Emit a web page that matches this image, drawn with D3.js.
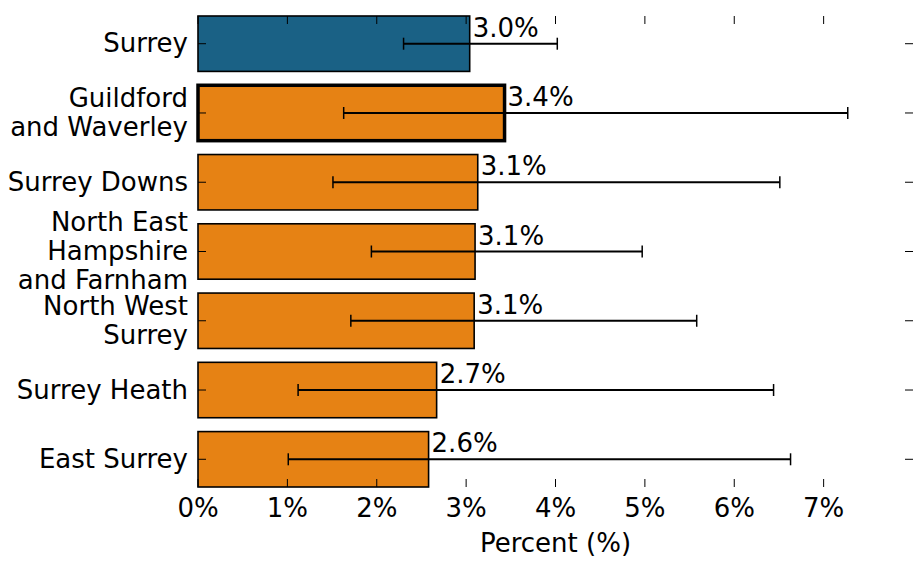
<!DOCTYPE html>
<html>
<head>
<meta charset="utf-8">
<script src="https://cdn.jsdelivr.net/npm/d3@7"></script>
<style>
  body { margin: 0; background: #fff; }
  svg { display: block; font-family: "DejaVu Sans", sans-serif; }
</style>
</head>
<body>
<svg id="chart" width="921" height="573"></svg>
<script>
// Data
const categories = [
  ["Surrey"],
  ["Guildford", "and Waverley"],
  ["Surrey Downs"],
  ["North East", "Hampshire", "and Farnham"],
  ["North West", "Surrey"],
  ["Surrey Heath"],
  ["East Surrey"]
];
const values = [3.04, 3.43, 3.13, 3.10, 3.09, 2.67, 2.58];
const lowerCI = [2.30, 1.63, 1.51, 1.94, 1.71, 1.12, 1.01];
const upperCI = [4.02, 7.27, 6.51, 4.97, 5.58, 6.44, 6.63];
const valueLabels = ["3.0%", "3.4%", "3.1%", "3.1%", "3.1%", "2.7%", "2.6%"];
const xTicks = [0, 1, 2, 3, 4, 5, 6, 7];
const highlight = [false, true, false, false, false, false, false];
const isRegion = [true, false, false, false, false, false, false];

const svg = d3.select("#chart");
const mLeft = 198, mRight = 913, mTop = 16, mBottom = 487;

const x = d3.scaleLinear().domain([0, 8]).range([mLeft, mRight]);
const idx = d3.range(categories.length);
const y = d3.scaleBand().domain(idx).range([mTop, mBottom]).paddingInner(0.2).paddingOuter(0);

const fontSize = 26;

// bars
const g = svg.append("g");
g.selectAll("rect.bar").data(idx).enter().append("rect")
  .attr("x", x(0))
  .attr("y", i => y(i))
  .attr("width", i => x(values[i]) - x(0))
  .attr("height", y.bandwidth())
  .attr("fill", i => isRegion[i] ? "#1a6185" : "#e68214")
  .attr("stroke", "#000")
  .attr("stroke-width", i => highlight[i] ? 3.5 : 1.6);

// ticks (inward, all four sides)
const tickLen = 8;
const tg = svg.append("g").attr("stroke", "#000").attr("stroke-width", 1);
xTicks.forEach(t => {
  tg.append("line").attr("x1", x(t)).attr("x2", x(t)).attr("y1", mBottom).attr("y2", mBottom - tickLen);
  tg.append("line").attr("x1", x(t)).attr("x2", x(t)).attr("y1", mTop).attr("y2", mTop + tickLen);
});
idx.forEach(i => {
  const cy = y(i) + y.bandwidth() / 2;
  tg.append("line").attr("x1", mLeft).attr("x2", mLeft + tickLen).attr("y1", cy).attr("y2", cy);
  tg.append("line").attr("x1", mRight).attr("x2", mRight - tickLen).attr("y1", cy).attr("y2", cy);
});

// error bars
const eg = svg.append("g").attr("stroke", "#000");
idx.forEach(i => {
  const cy = y(i) + y.bandwidth() / 2;
  eg.append("line").attr("x1", x(lowerCI[i])).attr("x2", x(upperCI[i]))
    .attr("y1", cy).attr("y2", cy).attr("stroke-width", 2);
  [lowerCI[i], upperCI[i]].forEach(v => {
    eg.append("line").attr("x1", x(v)).attr("x2", x(v))
      .attr("y1", cy - 6).attr("y2", cy + 6).attr("stroke-width", 1.5);
  });
});

// value labels
svg.append("g").selectAll("text").data(idx).enter().append("text")
  .attr("x", i => x(values[i]) + 3)
  .attr("y", i => y(i) + y.bandwidth() / 2 - 7)
  .attr("font-size", fontSize)
  .attr("fill", "#000")
  .text(i => valueLabels[i]);

// y category labels
const lineH = 29;
idx.forEach(i => {
  const cy = y(i) + y.bandwidth() / 2;
  const lines = categories[i];
  const t = svg.append("text")
    .attr("text-anchor", "end")
    .attr("font-size", fontSize)
    .attr("fill", "#000");
  lines.forEach((ln, k) => {
    t.append("tspan")
      .attr("x", mLeft - 10)
      .attr("y", cy + (k - (lines.length - 1) / 2) * lineH + 8.5)
      .text(ln);
  });
});

// x tick labels
svg.append("g").selectAll("text").data(xTicks).enter().append("text")
  .attr("x", d => x(d))
  .attr("y", 517)
  .attr("text-anchor", "middle")
  .attr("font-size", fontSize)
  .attr("fill", "#000")
  .text(d => d + "%");

// x axis title
svg.append("text")
  .attr("x", (mLeft + mRight) / 2)
  .attr("y", 552)
  .attr("text-anchor", "middle")
  .attr("font-size", fontSize)
  .attr("fill", "#000")
  .text("Percent (%)");
</script>
</body>
</html>
